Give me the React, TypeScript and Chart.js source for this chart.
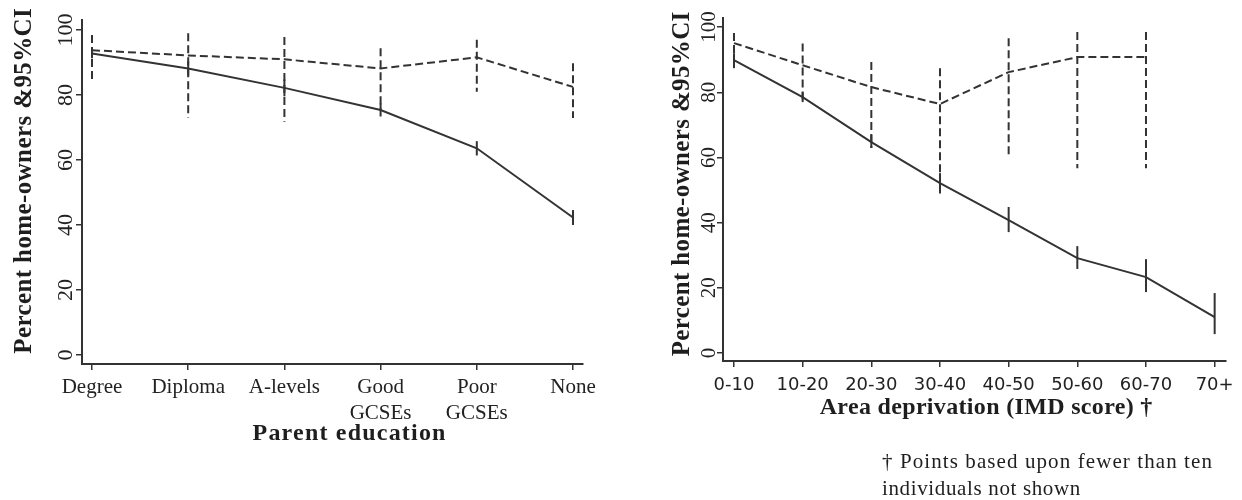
import React, { useEffect, useRef } from "react";
import { Chart, registerables } from "chart.js";

Chart.register(...registerables);

// ---------- data ----------
const educationLabels: string[][] = [["Degree"], ["Diploma"], ["A-levels"], ["Good", "GCSEs"], ["Poor", "GCSEs"], ["None"]];
const eduAllMean = [92.8, 88.2, 82.2, 75.4, 63.6, 42.3];
const eduAllLow = [91.3, 86.0, 79.6, 73.4, 61.4, 40.0];
const eduAllHigh = [94.2, 90.4, 84.8, 77.4, 65.8, 44.6];
const eduSubMean = [93.8, 92.2, 91.0, 88.2, 91.6, 82.5];
const eduSubLow = [83.7, 73.0, 71.8, 75.4, 81.0, 72.9];
const eduSubHigh = [98.5, 99.0, 97.9, 94.4, 97.0, 89.8];

const imdLabels: string[] = ["0-10", "10-20", "20-30", "30-40", "40-50", "50-60", "60-70", "70+"];
const imdAllMean = [89.9, 78.5, 64.7, 52.1, 40.8, 29.1, 23.3, 11.0];
const imdAllLow = [87.4, 77.0, 62.9, 49.0, 37.1, 25.8, 18.7, 5.8];
const imdAllHigh = [92.0, 80.0, 66.9, 55.2, 44.8, 32.8, 28.8, 18.4];
const imdSubMean = [95.1, 88.3, 81.6, 76.4, 86.2, 90.8, 90.8, null];
const imdSubLow = [89.0, 77.6, 62.9, 49.0, 59.8, 56.7, 56.7, null];
const imdSubHigh = [98.2, 95.0, 89.3, 87.4, 96.6, 98.5, 98.5, null];

const yTickValues = [0, 20, 40, 60, 80, 100];

const yTitleText = "Percent home-owners &95%CI";
const eduTitleText = "Parent education";
const imdTitleText = "Area deprivation (IMD score) \u2020";
const footnoteLines = ["\u2020 Points based upon fewer than ten", "individuals not shown"];

// ---------- styling ----------
const INK = "#333333";
const SERIF = "'Liberation Serif', 'Times New Roman', serif";
const SANS = "'DejaVu Sans', sans-serif";

function fittedText(
  ctx: CanvasRenderingContext2D,
  text: string,
  x: number,
  y: number,
  width: number,
  font: string,
  align: "center" | "left",
  rotate: boolean
) {
  ctx.save();
  ctx.font = font;
  (ctx as any).letterSpacing = "0px";
  const w = ctx.measureText(text).width;
  const n = Array.from(text).length;
  const ls = n > 0 ? (width - w) / n : 0;
  (ctx as any).letterSpacing = ls.toFixed(2) + "px";
  ctx.fillStyle = "#1e1e1e";
  ctx.textBaseline = "alphabetic";
  ctx.textAlign = align;
  ctx.translate(x, y);
  if (rotate) ctx.rotate(-Math.PI / 2);
  ctx.fillText(text, align === "center" ? ls / 2 : 0, 0);
  ctx.restore();
}

type Note = { text: string; x: number; baseline: number; width: number };

type PanelCfg = {
  labels: (string | string[])[];
  allMean: (number | null)[];
  allLow: (number | null)[];
  allHigh: (number | null)[];
  subMean: (number | null)[];
  subLow: (number | null)[];
  subHigh: (number | null)[];
  xMin: number;
  xMax: number;
  yMin: number;
  yMax: number;
  yAxisWidth: number;
  xAxisHeight: number;
  padTop: number;
  padRight: number;
  xTickFont: { family: string; size: number; lineHeight: number };
  xTickPadding: number;
  yTickFont: string;
  yTickBaselineX: number;
  yTitleBaselineX: number;
  yTitleCenterY: number;
  yTitleLength: number;
  xTitle: string;
  xTitleCenterX: number;
  xTitleBaseline: number;
  xTitleWidth: number;
  notes: Note[];
};

const toPoints = (arr: (number | null)[]) =>
  arr.map((v, i) => (v == null ? null : { x: i, y: v })).filter((p) => p !== null) as { x: number; y: number }[];

function Panel({ cfg, left, width }: { cfg: PanelCfg; left: number; width: number }) {
  const ref = useRef<HTMLCanvasElement | null>(null);

  useEffect(() => {
    if (!ref.current) return;

    const errorBars = {
      id: "errorBars",
      afterDatasetsDraw(chart: any) {
        const ctx: CanvasRenderingContext2D = chart.ctx;
        const xs = chart.scales.x;
        const ys = chart.scales.y;
        const sets = [
          { low: cfg.allLow, high: cfg.allHigh, dash: [] as number[] },
          { low: cfg.subLow, high: cfg.subHigh, dash: [8, 4] },
        ];
        sets.forEach((s) => {
          ctx.save();
          ctx.strokeStyle = INK;
          ctx.lineWidth = 2;
          ctx.setLineDash(s.dash);
          s.low.forEach((lo, i) => {
            const hi = s.high[i];
            if (lo == null || hi == null) return;
            const px = xs.getPixelForValue(i);
            ctx.beginPath();
            ctx.moveTo(px, ys.getPixelForValue(hi));
            ctx.lineTo(px, ys.getPixelForValue(lo));
            ctx.stroke();
          });
          ctx.restore();
        });
      },
    };

    const texts = {
      id: "panelTexts",
      afterDraw(chart: any) {
        const ctx: CanvasRenderingContext2D = chart.ctx;
        const ys = chart.scales.y;
        yTickValues.forEach((v) => {
          ctx.save();
          ctx.font = cfg.yTickFont;
          ctx.fillStyle = "#222";
          ctx.textAlign = "center";
          ctx.textBaseline = "alphabetic";
          ctx.translate(cfg.yTickBaselineX, ys.getPixelForValue(v));
          ctx.rotate(-Math.PI / 2);
          ctx.fillText(String(v), 0, 0);
          ctx.restore();
        });
        fittedText(ctx, yTitleText, cfg.yTitleBaselineX, cfg.yTitleCenterY, cfg.yTitleLength, `bold 25px ${SERIF}`, "center", true);
        fittedText(ctx, cfg.xTitle, cfg.xTitleCenterX, cfg.xTitleBaseline, cfg.xTitleWidth, `bold 24px ${SERIF}`, "center", false);
        cfg.notes.forEach((n) => fittedText(ctx, n.text, n.x, n.baseline, n.width, `21px ${SERIF}`, "left", false));
      },
    };

    const gridOpts = {
      display: true,
      drawOnChartArea: false,
      drawTicks: true,
      tickLength: 6,
      color: INK,
      lineWidth: 1.5,
    };

    const chart = new Chart(ref.current, {
      type: "line",
      data: {
        datasets: [
          {
            data: toPoints(cfg.allMean),
            borderColor: INK,
            borderWidth: 2,
            pointRadius: 0,
            tension: 0,
            fill: false,
          },
          {
            data: toPoints(cfg.subMean),
            borderColor: INK,
            borderWidth: 2,
            borderDash: [8, 4],
            pointRadius: 0,
            tension: 0,
            fill: false,
          },
        ],
      },
      options: {
        animation: false,
        responsive: false,
        devicePixelRatio: 1,
        layout: { padding: { left: 0, right: cfg.padRight, top: cfg.padTop, bottom: 0 } },
        plugins: { legend: { display: false }, tooltip: { enabled: false }, title: { display: false } },
        scales: {
          x: {
            type: "linear",
            min: cfg.xMin,
            max: cfg.xMax,
            afterBuildTicks: (s: any) => {
              s.ticks = cfg.labels.map((_, i) => ({ value: i }));
            },
            afterFit: (s: any) => {
              s.height = cfg.xAxisHeight;
            },
            ticks: {
              autoSkip: false,
              maxRotation: 0,
              minRotation: 0,
              padding: cfg.xTickPadding,
              color: "#222",
              font: cfg.xTickFont,
              callback: (v: any) => cfg.labels[Math.round(Number(v))] as any,
            },
            grid: gridOpts,
            border: { display: true, color: INK, width: 2 },
          },
          y: {
            type: "linear",
            min: cfg.yMin,
            max: cfg.yMax,
            afterBuildTicks: (s: any) => {
              s.ticks = yTickValues.map((v) => ({ value: v }));
            },
            afterFit: (s: any) => {
              s.width = cfg.yAxisWidth;
            },
            ticks: { display: false },
            grid: gridOpts,
            border: { display: true, color: INK, width: 2 },
          },
        },
      } as any,
      plugins: [errorBars, texts],
    });
    return () => chart.destroy();
  }, [cfg]);

  return (
    <div style={{ position: "absolute", left, top: 0, width, height: 500 }}>
      <canvas ref={ref} width={width} height={500} style={{ display: "block" }} />
    </div>
  );
}

const leftCfg: PanelCfg = {
  labels: educationLabels,
  allMean: eduAllMean,
  allLow: eduAllLow,
  allHigh: eduAllHigh,
  subMean: eduSubMean,
  subLow: eduSubLow,
  subHigh: eduSubHigh,
  xMin: -0.104,
  xMax: 5.104,
  yMin: -2.8,
  yMax: 103.1,
  yAxisWidth: 82,
  xAxisHeight: 136,
  padTop: 20,
  padRight: 37,
  xTickFont: { family: SERIF, size: 21, lineHeight: 1.25 },
  xTickPadding: 4,
  yTickFont: `22px ${SERIF}`,
  yTickBaselineX: 72,
  yTitleBaselineX: 31,
  yTitleCenterY: 181,
  yTitleLength: 346,
  xTitle: eduTitleText,
  xTitleCenterX: 349,
  xTitleBaseline: 440,
  xTitleWidth: 194,
  notes: [],
};

const rightCfg: PanelCfg = {
  labels: imdLabels,
  allMean: imdAllMean,
  allLow: imdAllLow,
  allHigh: imdAllHigh,
  subMean: imdSubMean,
  subLow: imdSubLow,
  subHigh: imdSubHigh,
  xMin: -0.16,
  xMax: 7.16,
  yMin: -2.45,
  yMax: 102.8,
  yAxisWidth: 103,
  xAxisHeight: 139,
  padTop: 18,
  padRight: 16,
  xTickFont: { family: SANS, size: 18, lineHeight: 1.2 },
  xTickPadding: 8,
  yTickFont: `21px ${SERIF}`,
  yTickBaselineX: 95,
  yTitleBaselineX: 69,
  yTitleCenterY: 184,
  yTitleLength: 345,
  xTitle: imdTitleText,
  xTitleCenterX: 366,
  xTitleBaseline: 414,
  xTitleWidth: 333,
  notes: [
    { text: footnoteLines[0], x: 262, baseline: 468, width: 331 },
    { text: footnoteLines[1], x: 262, baseline: 495, width: 199 },
  ],
};

export default function App() {
  return (
    <div style={{ position: "fixed", left: 0, top: 0, width: 1242, height: 500, background: "#fff", overflow: "hidden" }}>
      <Panel cfg={leftCfg} left={0} width={620} />
      <Panel cfg={rightCfg} left={620} width={622} />
    </div>
  );
}
